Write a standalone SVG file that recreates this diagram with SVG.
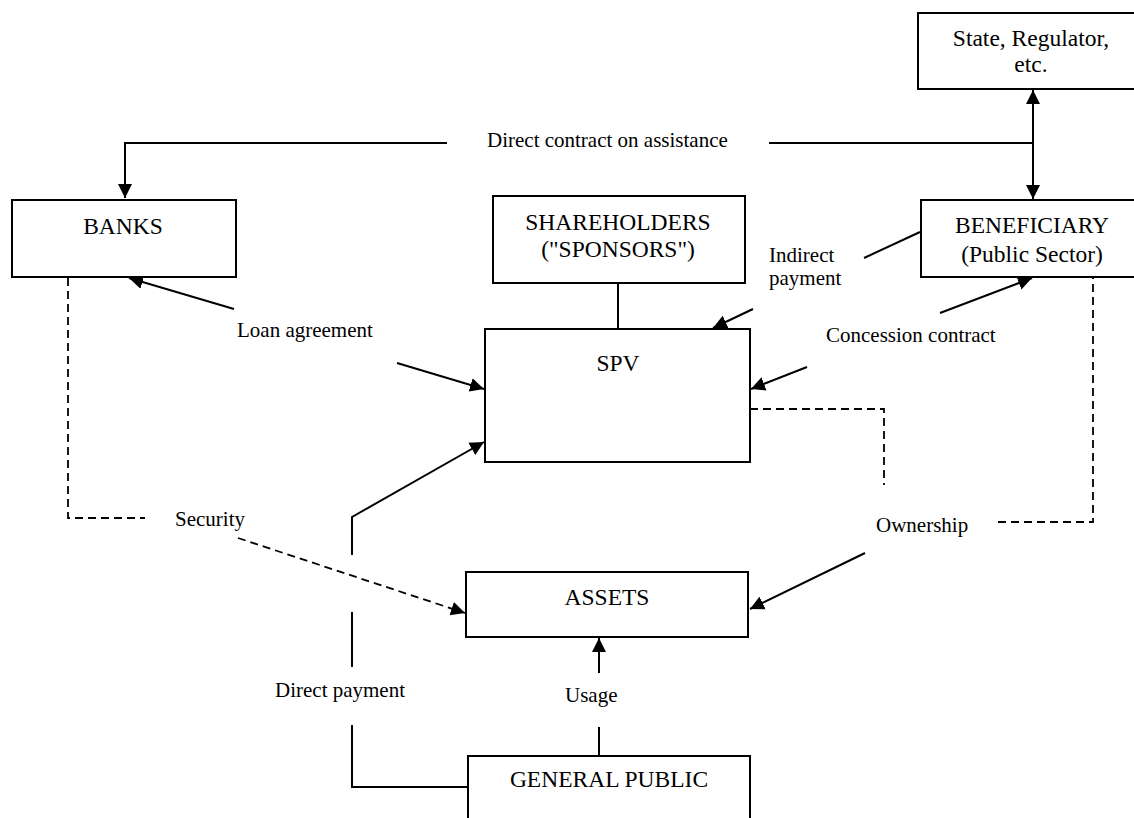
<svg xmlns="http://www.w3.org/2000/svg" width="1134" height="818" viewBox="0 0 1134 818">
<style>
.box{fill:#fff;stroke:#000;stroke-width:2}
.t{font-family:"Liberation Serif","Times New Roman",serif;font-size:23.5px;fill:#000;text-anchor:middle}
.l{font-family:"Liberation Serif","Times New Roman",serif;font-size:21px;fill:#000}
.c{fill:none;stroke:#000;stroke-width:2}
.d{fill:none;stroke:#000;stroke-width:1.8;stroke-dasharray:8 5}
</style>
<defs>
<marker id="ah" markerUnits="userSpaceOnUse" markerWidth="15" markerHeight="15" refX="14" refY="7" orient="auto-start-reverse" viewBox="0 0 15 14">
<path d="M0,0 L14,7 L0,14 z" fill="#000"/>
</marker>
</defs>
<rect width="1134" height="818" fill="#fff"/>
<g id="connectors">
<path class="c" d="M447,143 H125 V198" marker-end="url(#ah)"/>
<path class="c" d="M769,143 H1033"/>
<path class="c" d="M1033,90 V199" marker-start="url(#ah)" marker-end="url(#ah)"/>
<path class="c" d="M234,309 L129,278" marker-end="url(#ah)"/>
<path class="c" d="M397,363 L484,389" marker-end="url(#ah)"/>
<path class="c" d="M618,283 V329"/>
<path class="c" d="M920,232 L864,258"/>
<path class="c" d="M753,309 L713,328" marker-end="url(#ah)"/>
<path class="c" d="M940,313 L1032,278" marker-end="url(#ah)"/>
<path class="c" d="M807,367 L751,389" marker-end="url(#ah)"/>
<path class="d" d="M750,409 H884 V485"/>
<path class="d" d="M998,522 H1093 V277"/>
<path class="c" d="M865,553 L750,609" marker-end="url(#ah)"/>
<path class="d" d="M68,278 V518 H145"/>
<path class="d" d="M238,538 L465,613" marker-end="url(#ah)"/>
<path class="c" d="M352,555 V517 L484,442" marker-end="url(#ah)"/>
<path class="c" d="M352,612 V667"/>
<path class="c" d="M352,725 V787 H468"/>
<path class="c" d="M599,673 V638" marker-end="url(#ah)"/>
<path class="c" d="M599,727 V756"/>
<text class="l" x="487" y="147">Direct contract on assistance</text>
<text class="l" x="237" y="337">Loan agreement</text>
<text class="l" x="769" y="262">Indirect</text>
<text class="l" x="769" y="285">payment</text>
<text class="l" x="826" y="342">Concession contract</text>
<text class="l" x="175" y="526">Security</text>
<text class="l" x="876" y="532">Ownership</text>
<text class="l" x="565" y="702">Usage</text>
<text class="l" x="275" y="697">Direct payment</text>
</g>
<g id="state">
<rect class="box" x="918" y="13" width="222" height="76"/>
<text class="t" x="1031" y="46">State, Regulator,</text>
<text class="t" x="1031" y="72">etc.</text>
</g>
<g id="banks">
<rect class="box" x="12" y="200" width="224" height="77"/>
<text class="t" x="123" y="234">BANKS</text>
</g>
<g id="shareholders">
<rect class="box" x="493" y="196" width="252" height="87"/>
<text class="t" x="618" y="230">SHAREHOLDERS</text>
<text class="t" x="618" y="257">("SPONSORS")</text>
</g>
<g id="beneficiary">
<rect class="box" x="921" y="200" width="219" height="77"/>
<text class="t" x="1032" y="233">BENEFICIARY</text>
<text class="t" x="1032" y="262">(Public Sector)</text>
</g>
<g id="spv">
<rect class="box" x="485" y="329" width="265" height="133"/>
<text class="t" x="618" y="371">SPV</text>
</g>
<g id="assets">
<rect class="box" x="466" y="572" width="282" height="65"/>
<text class="t" x="607" y="605">ASSETS</text>
</g>
<g id="general-public">
<rect class="box" x="468" y="756" width="282" height="80"/>
<text class="t" x="609" y="787">GENERAL PUBLIC</text>
</g>
</svg>
